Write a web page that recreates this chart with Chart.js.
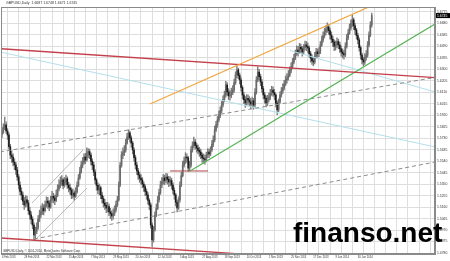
<!DOCTYPE html>
<html><head><meta charset="utf-8">
<script src="https://cdn.jsdelivr.net/npm/chart.js@4.4.0/dist/chart.umd.min.js"></script>
<style>
html,body{margin:0;padding:0;background:#fff;overflow:hidden;}
#wrap{position:relative;width:450px;height:261px;}
#wm{position:absolute;left:293px;top:219px;font:bold 28px "Liberation Sans",Arial,sans-serif;line-height:28px;color:#000;white-space:nowrap;pointer-events:none;}
</style></head><body>
<div id="wrap"><canvas id="c" width="450" height="261"></canvas><div id="wm">finanso.net</div></div>
<script>
// ---- data (GBPUSD daily) ----
const firstOpen = 1.5760;
const closes = [
1.5782,1.5815,1.5840,1.5790,1.5757,1.5660,1.5591,1.5575,1.5533,1.5510,
1.5467,1.5410,1.5343,1.5290,1.5260,1.5210,1.5178,1.5220,1.5194,1.5130,
1.5095,1.5060,1.5012,1.4929,1.4960,1.4987,1.5060,1.5095,1.5120,1.5153,
1.5130,1.5178,1.5210,1.5194,1.5160,1.5219,1.5250,1.5236,1.5215,1.5260,
1.5310,1.5343,1.5370,1.5385,1.5340,1.5368,1.5395,1.5343,1.5320,1.5302,
1.5260,1.5277,1.5250,1.5285,1.5340,1.5401,1.5450,1.5508,1.5530,1.5575,
1.5550,1.5608,1.5620,1.5591,1.5540,1.5508,1.5450,1.5385,1.5340,1.5302,
1.5320,1.5260,1.5230,1.5194,1.5175,1.5153,1.5165,1.5120,1.5105,1.5087,
1.5110,1.5136,1.5180,1.5219,1.5343,1.5508,1.5591,1.5610,1.5633,1.5690,
1.5740,1.5774,1.5732,1.5690,1.5633,1.5570,1.5508,1.5460,1.5426,1.5400,
1.5385,1.5350,1.5327,1.5290,1.5260,1.5215,1.5178,1.5012,1.4888,1.4971,
1.5095,1.5150,1.5219,1.5280,1.5343,1.5370,1.5401,1.5380,1.5409,1.5390,
1.5368,1.5380,1.5343,1.5300,1.5260,1.5200,1.5153,1.5219,1.5343,1.5420,
1.5508,1.5540,1.5575,1.5567,1.5483,1.5508,1.5633,1.5670,1.5699,1.5670,
1.5649,1.5630,1.5616,1.5590,1.5567,1.5560,1.5550,1.5590,1.5616,1.5600,
1.5633,1.5680,1.5716,1.5799,1.5840,1.5881,1.5922,1.5960,1.6005,1.6050,
1.6088,1.6171,1.6113,1.6080,1.6088,1.6110,1.6129,1.6190,1.6253,1.6295,
1.6250,1.6212,1.6150,1.6088,1.6050,1.6022,1.6060,1.6047,1.6030,1.6013,
1.6040,1.6005,1.6110,1.6212,1.6278,1.6240,1.6195,1.6140,1.6088,1.6060,
1.6022,1.6050,1.6071,1.6100,1.6129,1.6110,1.6088,1.6020,1.5964,1.6030,
1.6088,1.6120,1.6146,1.6180,1.6212,1.6230,1.6253,1.6290,1.6320,1.6360,
1.6394,1.6430,1.6460,1.6440,1.6485,1.6470,1.6444,1.6480,1.6502,1.6490,
1.6477,1.6430,1.6394,1.6370,1.6361,1.6410,1.6444,1.6430,1.6444,1.6500,
1.6543,1.6580,1.6609,1.6630,1.6651,1.6620,1.6584,1.6550,1.6526,1.6490,
1.6502,1.6530,1.6502,1.6470,1.6444,1.6430,1.6419,1.6490,1.6560,1.6600,
1.6642,1.6680,1.6709,1.6660,1.6626,1.6580,1.6543,1.6480,1.6419,1.6380,
1.6361,1.6400,1.6419,1.6500,1.6584,1.6667,1.6745];
const highs = [
1.5820,1.5850,1.5905,1.5865,1.5810,1.5775,1.5680,1.5625,1.5600,1.5560,
1.5530,1.5490,1.5430,1.5370,1.5320,1.5285,1.5240,1.5255,1.5250,1.5215,
1.5160,1.5120,1.5080,1.5030,1.4995,1.5030,1.5090,1.5135,1.5170,1.5190,
1.5180,1.5210,1.5245,1.5240,1.5215,1.5250,1.5290,1.5275,1.5260,1.5300,
1.5345,1.5385,1.5410,1.5420,1.5400,1.5405,1.5425,1.5410,1.5365,1.5350,
1.5320,1.5310,1.5295,1.5320,1.5370,1.5430,1.5490,1.5540,1.5570,1.5600,
1.5605,1.5650,1.5645,1.5640,1.5610,1.5560,1.5530,1.5470,1.5400,1.5360,
1.5350,1.5335,1.5285,1.5250,1.5225,1.5200,1.5200,1.5185,1.5150,1.5130,
1.5145,1.5170,1.5210,1.5250,1.5370,1.5530,1.5620,1.5650,1.5670,1.5720,
1.5770,1.5800,1.5790,1.5750,1.5705,1.5650,1.5590,1.5530,1.5480,1.5450,
1.5430,1.5405,1.5370,1.5345,1.5310,1.5280,1.5230,1.5195,1.5030,1.5000,
1.5120,1.5185,1.5250,1.5310,1.5375,1.5405,1.5430,1.5425,1.5440,1.5435,
1.5415,1.5410,1.5400,1.5360,1.5320,1.5275,1.5220,1.5245,1.5370,1.5450,
1.5540,1.5575,1.5610,1.5600,1.5580,1.5540,1.5660,1.5700,1.5740,1.5720,
1.5690,1.5675,1.5655,1.5640,1.5610,1.5600,1.5590,1.5615,1.5645,1.5640,
1.5660,1.5710,1.5750,1.5830,1.5870,1.5910,1.5955,1.5990,1.6035,1.6080,
1.6120,1.6200,1.6190,1.6140,1.6125,1.6145,1.6165,1.6220,1.6280,1.6325,
1.6310,1.6270,1.6230,1.6165,1.6110,1.6075,1.6090,1.6090,1.6075,1.6060,
1.6070,1.6060,1.6140,1.6240,1.6320,1.6300,1.6260,1.6215,1.6160,1.6110,
1.6080,1.6085,1.6105,1.6135,1.6160,1.6155,1.6135,1.6100,1.6040,1.6055,
1.6115,1.6150,1.6180,1.6210,1.6245,1.6265,1.6290,1.6320,1.6355,1.6390,
1.6425,1.6460,1.6495,1.6490,1.6515,1.6510,1.6490,1.6505,1.6535,1.6530,
1.6520,1.6495,1.6450,1.6420,1.6400,1.6440,1.6475,1.6470,1.6480,1.6530,
1.6575,1.6610,1.6640,1.6660,1.6685,1.6670,1.6640,1.6610,1.6575,1.6545,
1.6535,1.6560,1.6550,1.6525,1.6495,1.6470,1.6460,1.6520,1.6590,1.6630,
1.6675,1.6710,1.6750,1.6725,1.6680,1.6640,1.6600,1.6560,1.6495,1.6435,
1.6400,1.6430,1.6455,1.6530,1.6610,1.6695,1.6766];
const lows = [
1.5735,1.5770,1.5800,1.5770,1.5720,1.5640,1.5560,1.5530,1.5500,1.5470,
1.5430,1.5380,1.5310,1.5260,1.5220,1.5180,1.5140,1.5160,1.5165,1.5100,
1.5060,1.5020,1.4980,1.4885,1.4895,1.4940,1.4975,1.5040,1.5075,1.5100,
1.5095,1.5120,1.5160,1.5150,1.5130,1.5150,1.5200,1.5195,1.5180,1.5205,
1.5245,1.5295,1.5320,1.5340,1.5310,1.5325,1.5345,1.5315,1.5285,1.5265,
1.5230,1.5235,1.5215,1.5240,1.5275,1.5330,1.5390,1.5440,1.5485,1.5515,
1.5520,1.5540,1.5570,1.5560,1.5510,1.5470,1.5420,1.5355,1.5300,1.5270,
1.5260,1.5230,1.5195,1.5160,1.5140,1.5115,1.5120,1.5090,1.5065,1.5050,
1.5060,1.5090,1.5120,1.5165,1.5210,1.5330,1.5490,1.5560,1.5585,1.5615,
1.5680,1.5720,1.5700,1.5655,1.5600,1.5540,1.5475,1.5430,1.5390,1.5365,
1.5350,1.5320,1.5290,1.5255,1.5225,1.5185,1.5140,1.4985,1.4835,1.4870,
1.4960,1.5080,1.5140,1.5200,1.5265,1.5320,1.5350,1.5345,1.5360,1.5350,
1.5330,1.5335,1.5310,1.5270,1.5225,1.5170,1.5120,1.5140,1.5200,1.5330,
1.5410,1.5490,1.5520,1.5530,1.5455,1.5460,1.5490,1.5615,1.5650,1.5640,
1.5615,1.5600,1.5580,1.5560,1.5530,1.5525,1.5515,1.5535,1.5570,1.5570,
1.5585,1.5620,1.5660,1.5700,1.5785,1.5820,1.5865,1.5900,1.5940,1.5990,
1.6030,1.6070,1.6085,1.6050,1.6045,1.6065,1.6090,1.6110,1.6175,1.6230,
1.6220,1.6180,1.6120,1.6055,1.6015,1.5985,1.6000,1.6010,1.5995,1.5975,
1.5990,1.5970,1.5990,1.6095,1.6195,1.6210,1.6165,1.6110,1.6055,1.6020,
1.5990,1.6000,1.6030,1.6050,1.6085,1.6075,1.6050,1.5990,1.5925,1.5950,
1.6020,1.6070,1.6100,1.6130,1.6165,1.6185,1.6210,1.6240,1.6270,1.6305,
1.6345,1.6380,1.6415,1.6410,1.6430,1.6440,1.6410,1.6430,1.6460,1.6455,
1.6440,1.6400,1.6360,1.6340,1.6330,1.6345,1.6395,1.6400,1.6405,1.6430,
1.6490,1.6525,1.6560,1.6585,1.6605,1.6590,1.6550,1.6520,1.6490,1.6455,
1.6460,1.6480,1.6470,1.6440,1.6410,1.6395,1.6385,1.6405,1.6475,1.6545,
1.6590,1.6625,1.6655,1.6630,1.6590,1.6550,1.6510,1.6450,1.6385,1.6345,
1.6330,1.6340,1.6375,1.6400,1.6485,1.6570,1.6650];

// date labels shown every 16 bars
const dateTickLabels = ["6 Feb 2013","28 Feb 2013","22 Mar 2013","15 Apr 2013","7 May 2013","29 May 2013","20 Jun 2013","12 Jul 2013","5 Aug 2013","27 Aug 2013","18 Sep 2013","10 Oct 2013","1 Nov 2013","25 Nov 2013","17 Dec 2013","9 Jan 2014","30 Jan 2014"];
const priceTicks = [1.6775,1.6680,1.6585,1.6490,1.6395,1.6300,1.6205,1.6110,1.6015,1.5920,1.5825,1.5730,1.5635,1.5540,1.5445,1.5350,1.5255,1.5160,1.5065,1.4970,1.4875,1.4780];
const lastPrice = 1.6745;
const headerText = "GBPUSD,Daily  1.6687 1.6748 1.6671 1.6745";
const footerText = "GBPUSD,Daily, \u00A9 2001-2014, MetaQuotes Software Corp.";

// trend lines: [bar index, price] endpoints
const orangeLine   = [[106.5,1.6013],[311.5,1.7059]];
const redUpper     = [[-1.5,1.6471],[311.5,1.6231]];
const redLower     = [[-1.5,1.4905],[311.5,1.4665]];
const greenLine    = [[135.3,1.5459],[311.5,1.6675]];
const grayUpper    = [[-1.5,1.5616],[311.5,1.6233]];
const grayLower    = [[23,1.4896],[311.5,1.5533]];
const blueLower    = [[-1.5,1.6444],[311.5,1.5658]];
const blueUpper    = [[207.2,1.6456],[311.5,1.6113]];
const channelUp    = [[21.6,1.5194],[58.3,1.5633]];
const channelLo    = [[23.7,1.4888],[61.2,1.5318]];
const redFlat      = [[120.9,1.5459],[148.2,1.5459]];

// ---- build ----
const gridIdx = [];
for (let v = 0; v <= 304; v += 8) gridIdx.push(v);

const opens = closes.map((c,i)=> i ? closes[i-1] : firstOpen);
const wickData = closes.map((c,i)=>({x:i, y:[lows[i], highs[i]]}));
const bodyData = closes.map((c,i)=>({x:i, y:[opens[i], c]}));
const bodyColors = closes.map((c,i)=> c >= opens[i] ? '#6a6a6a' : '#1a1a1a');

function seg(points, color, width, dash){
  return {type:'line', data: points.map(p=>({x:p[0], y:p[1]})), borderColor: color,
    borderWidth: width, borderDash: dash || [], pointRadius: 0, pointHoverRadius:0,
    fill: false, tension: 0, order: 0};
}

const overlay = {
  id: 'overlay',
  afterDraw(chart){
    const {ctx, chartArea: a, scales: {y}} = chart;
    ctx.save();
    ctx.strokeStyle = '#8a8a8a'; ctx.lineWidth = 1;
    ctx.strokeRect(a.left + 0.5, a.top + 0.5, a.right - a.left - 1, a.bottom - a.top - 1);
    ctx.fillStyle = '#333';
    ctx.font = '3.5px "Liberation Sans", Arial, sans-serif';
    ctx.textBaseline = 'middle'; ctx.textAlign = 'left';
    ctx.fillText(headerText, 6, 3.5);
    ctx.font = '3px "Liberation Sans", Arial, sans-serif';
    ctx.fillText(footerText, 3, a.bottom - 3);
    const py = y.getPixelForValue(lastPrice);
    ctx.fillStyle = '#000';
    ctx.fillRect(a.right + 1, py - 2.5, 14, 5);
    ctx.fillStyle = '#fff';
    ctx.font = '3.4px "Liberation Sans", Arial, sans-serif';
    ctx.fillText(lastPrice.toFixed(4), a.right + 2, py);
    ctx.restore();
  }
};

new Chart(document.getElementById('c'), {
  type: 'bar',
  data: {
    datasets: [
      seg(orangeLine, '#f2a640', 1.2),
      seg(redUpper, '#c4404a', 1.3),
      seg(redLower, '#c4404a', 1.3),
      seg(greenLine, '#55b455', 1.2),
      seg(grayUpper, '#8c8c8c', 1, [4,3]),
      seg(grayLower, '#8c8c8c', 1, [4,3]),
      seg(blueLower, '#b3dfec', 1),
      seg(blueUpper, '#b3dfec', 1),
      seg(channelUp, '#a8a8a8', 0.8),
      seg(channelLo, '#a8a8a8', 0.8),
      seg(redFlat, '#b04848', 1),
      {type:'bar', data: bodyData, backgroundColor: bodyColors, barThickness: 1, grouped: false, order: 1},
      {type:'bar', data: wickData, backgroundColor: '#7a7a7a', barThickness: 0.7, grouped: false, order: 2}
    ]
  },
  options: {
    responsive: false,
    animation: false,
    devicePixelRatio: 1,
    layout: {padding: {top: 7, left: 1, right: 0, bottom: 0}},
    plugins: {legend: {display: false}, tooltip: {enabled: false}},
    scales: {
      x: {
        type: 'linear', min: -0.7, max: 311.5, offset: false,
        afterBuildTicks: s => { s.ticks = gridIdx.map(v => ({value: v})); },
        afterFit: s => { s.height = 7; },
        ticks: {autoSkip: false, maxRotation: 0, minRotation: 0, align: 'start', padding: 1.5,
          color: '#333', font: {size: 2.7, family: '"Liberation Sans", Arial, sans-serif'},
          callback: v => (v % 16 === 0 && dateTickLabels[v/16]) ? dateTickLabels[v/16] : ''},
        grid: {color: '#dedede', lineWidth: 1, drawTicks: false},
        border: {color: '#8a8a8a'}
      },
      y: {
        type: 'linear', position: 'right', min: 1.4772, max: 1.6816,
        afterBuildTicks: s => { s.ticks = priceTicks.map(v => ({value: v})); },
        afterFit: s => { s.width = 15; },
        ticks: {padding: 2, color: '#333', font: {size: 3.4, family: '"Liberation Sans", Arial, sans-serif'},
          callback: v => v.toFixed(4)},
        grid: {color: '#dedede', lineWidth: 1, drawTicks: false},
        border: {color: '#8a8a8a'}
      }
    }
  },
  plugins: [overlay]
});
</script>
</body></html>
